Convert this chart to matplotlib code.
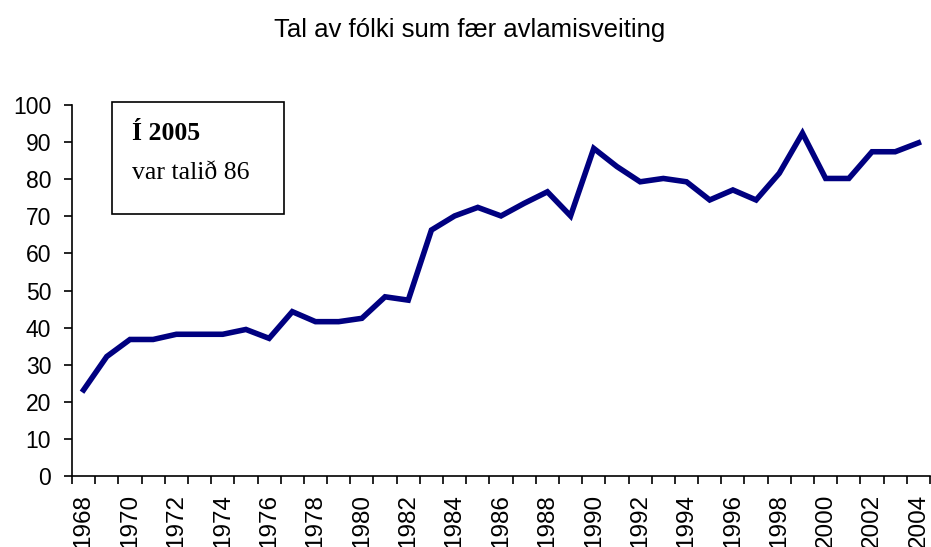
import numpy as np
import matplotlib.pyplot as plt
from matplotlib.patches import Rectangle

years = list(range(1968, 2005))
values = [23.2, 32.2, 36.8, 36.8, 38.2, 38.2, 38.2, 39.5, 37.1, 44.3,
          41.6, 41.6, 42.5, 48.3, 47.4, 66.3, 70.1, 72.4, 70.1, 73.5,
          76.6, 70.1, 88.3, 83.4, 79.3, 80.2, 79.3, 74.4, 77.1, 74.4,
          81.6, 92.4, 80.2, 80.2, 87.4, 87.4, 89.8]
title = "Tal av fólki sum fær avlamisveiting"

plt.rcParams['font.family'] = ['Liberation Sans', 'DejaVu Sans']

fig = plt.figure(figsize=(9.31, 5.47), dpi=100)
ax = fig.add_axes([72/931, 71/547, 858/931, 371/547])

x = np.arange(len(years))
ax.plot(x, values, color='#000080', linewidth=4.0, solid_joinstyle='miter')

ax.set_xlim(-0.5, len(years) - 0.5)
ax.set_ylim(0, 100)
ax.set_yticks(range(0, 101, 10))
ax.tick_params(axis='y', direction='out', length=6, width=1.2, labelsize=16.5, pad=9)

# major ticks at category borders, labels on every second year
ax.set_xticks(np.arange(-0.5, len(years), 1.0))
ax.set_xticklabels([])
ax.set_xticks(x[::2], minor=True)
ax.set_xticklabels([str(y) for y in years[::2]], minor=True, rotation=90)
ax.tick_params(axis='x', which='major', direction='out', length=6, width=1.2)
ax.tick_params(axis='x', which='minor', length=0, labelsize=17.5, pad=13)

for s in ['top', 'right']:
    ax.spines[s].set_visible(False)
ax.spines['left'].set_linewidth(1.2)
ax.spines['bottom'].set_linewidth(1.2)

fig.text(470/931, 1 - 30/547, title, ha='center', va='center', fontsize=18.5)

box = Rectangle((112/931, 1 - 214/547), 172/931, 112/547, transform=fig.transFigure,
                fill=False, edgecolor='black', linewidth=1.2)
fig.patches.append(box)
fig.text(132/931, 1 - 133/547, "Í 2005", fontsize=18.5, fontweight='bold',
         family='Liberation Serif', va='center')
fig.text(132/931, 1 - 173/547, "var talið 86", fontsize=18.5,
         family='Liberation Serif', va='center')

fig.savefig('out.png', dpi=100)
